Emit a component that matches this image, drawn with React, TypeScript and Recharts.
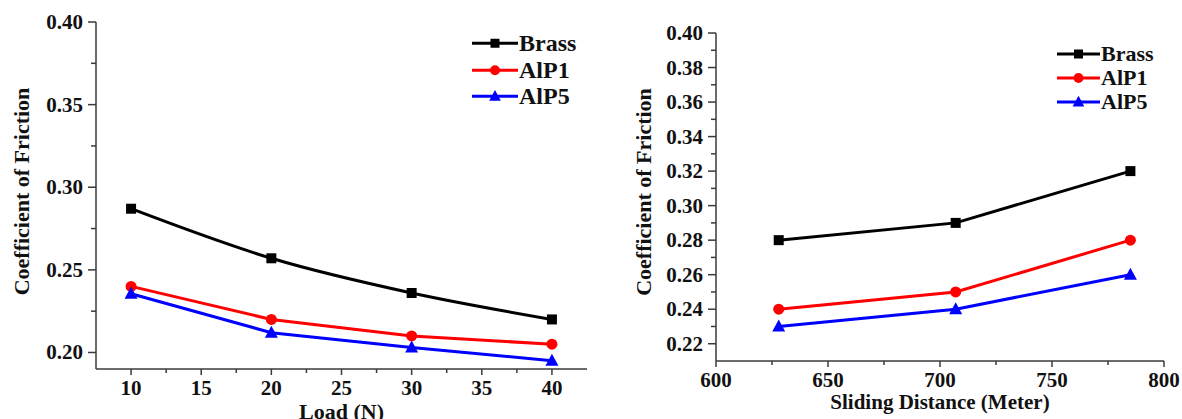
import React from 'react';
import { LineChart, Line, XAxis, YAxis, Legend } from 'recharts';

// left panel: coefficient of friction vs load
const loads = [10, 20, 30, 40];
const loadBrass = [0.287, 0.257, 0.236, 0.22];
const loadAlP1 = [0.24, 0.22, 0.21, 0.205];
const loadAlP5 = [0.2355, 0.212, 0.203, 0.195];

// right panel: coefficient of friction vs sliding distance
const distances = [628, 707, 785];
const distBrass = [0.28, 0.29, 0.32];
const distAlP1 = [0.24, 0.25, 0.28];
const distAlP5 = [0.23, 0.24, 0.26];

// tick labels
const loadMajor = [10, 15, 20, 25, 30, 35, 40];
const loadMinor = [12.5, 17.5, 22.5, 27.5, 32.5, 37.5];
const loadCofMajor = [0.2, 0.25, 0.3, 0.35, 0.4];
const loadCofMinor = [0.225, 0.275, 0.325, 0.375];
const distMajor = [600, 650, 700, 750, 800];
const distMinor = [625, 675, 725, 775];
const distCofMajor = [0.22, 0.24, 0.26, 0.28, 0.3, 0.32, 0.34, 0.36, 0.38, 0.4];
const distCofMinor = [0.23, 0.25, 0.27, 0.29, 0.31, 0.33, 0.35, 0.37, 0.39];

const seriesNames = ['Brass', 'AlP1', 'AlP5'];
const seriesKeys = ['brass', 'alp1', 'alp5'];
const seriesColors = ['#000000', '#ff0000', '#0000ff'];
const seriesShapes = ['square', 'circle', 'triangle'];

const FONT = 'Liberation Serif';
const AXIS = '#3a3a3a';
const TICK_SIZE = 6;
const TICK_MARGIN = 2;

const loadData = loads.map((x, i) => ({ x, brass: loadBrass[i], alp1: loadAlP1[i], alp5: loadAlP5[i] }));
const distData = distances.map((x, i) => ({ x, brass: distBrass[i], alp1: distAlP1[i], alp5: distAlP5[i] }));

const isIn = (v: number, list: number[]) => list.some((m) => Math.abs(m - v) < 1e-9);
const merge = (a: number[], b: number[]) => [...a, ...b].sort((p, q) => p - q);

const txt = { fontFamily: FONT, fontWeight: 700 } as const;

const Marker = ({ shape, cx, cy, color, s = 1 }: any) => {
  if (cx == null || cy == null) return null;
  if (shape === 'square') return <rect x={cx - 5 * s} y={cy - 5 * s} width={10 * s} height={10 * s} fill={color} />;
  if (shape === 'circle') return <circle cx={cx} cy={cy} r={5.5 * s} fill={color} />;
  return <polygon points={`${cx},${cy - 7 * s} ${cx - 6.5 * s},${cy + 5 * s} ${cx + 6.5 * s},${cy + 5 * s}`} fill={color} />;
};

const XTick = ({ x, y, payload, major }: any) => {
  const ay = y - TICK_SIZE - TICK_MARGIN;
  const big = isIn(payload.value, major);
  return (
    <g>
      <line x1={x} x2={x} y1={ay} y2={ay + (big ? 6 : 4)} stroke={AXIS} strokeWidth={1.5} />
      {big && (
        <text x={x} y={ay + 26} textAnchor="middle" style={{ ...txt, fontSize: 21 }} fill="#111">
          {String(payload.value)}
        </text>
      )}
    </g>
  );
};

const YTick = ({ x, y, payload, major }: any) => {
  const ax = x + TICK_SIZE + TICK_MARGIN;
  const big = isIn(payload.value, major);
  return (
    <g>
      <line x1={ax} x2={ax - (big ? 8 : 5)} y1={y} y2={y} stroke={AXIS} strokeWidth={1.5} />
      {big && (
        <text x={ax - 13} y={y + 7} textAnchor="end" style={{ ...txt, fontSize: 21 }} fill="#111">
          {payload.value.toFixed(2)}
        </text>
      )}
    </g>
  );
};

const LegendBox = ({ rowH, lineW, fontSize }: any) => (
  <div>
    {seriesNames.map((name, i) => (
      <div key={name} style={{ display: 'flex', alignItems: 'center', height: rowH }}>
        <svg width={lineW} height={rowH} style={{ display: 'block' }}>
          <line x1={0} x2={lineW} y1={rowH / 2} y2={rowH / 2} stroke={seriesColors[i]} strokeWidth={3} />
          <Marker shape={seriesShapes[i]} cx={lineW / 2} cy={rowH / 2} color={seriesColors[i]} s={0.9} />
        </svg>
        <span style={{ ...txt, fontSize, color: '#111', marginLeft: 1, lineHeight: 1 }}>{name}</span>
      </div>
    ))}
  </div>
);

const YTitle = ({ viewBox, cx, shift }: any) => {
  const cy = viewBox.y + viewBox.height / 2 + shift;
  return (
    <text x={cx} y={cy} transform={`rotate(-90, ${cx}, ${cy})`} textAnchor="middle" dominantBaseline="central"
      style={{ ...txt, fontSize: 22 }} fill="#111">
      Coefficient of Friction
    </text>
  );
};

const XTitle = ({ viewBox, text, dy, size }: any) => (
  <text x={viewBox.x + viewBox.width / 2} y={viewBox.y + dy} textAnchor="middle" style={{ ...txt, fontSize: size }} fill="#111">
    {text}
  </text>
);

const renderLines = (smoothFirst: boolean) =>
  seriesKeys.map((k, i) => (
    <Line
      key={k}
      dataKey={k}
      name={seriesNames[i]}
      type={smoothFirst && i === 0 ? 'monotone' : 'linear'}
      stroke={seriesColors[i]}
      strokeWidth={3}
      dot={(p: any) => <Marker key={`${k}-${p.index}`} shape={seriesShapes[i]} cx={p.cx} cy={p.cy} color={seriesColors[i]} />}
      activeDot={false}
      isAnimationActive={false}
    />
  ));

const App = () => {
  return (
    <div style={{ position: 'absolute', left: 0, top: 0, width: 1182, height: 419, background: '#fff', fontFamily: FONT }}>
      <div style={{ position: 'absolute', left: 0, top: 0 }}>
        <LineChart width={600} height={419} data={loadData} margin={{ top: 22, right: 13, left: 0, bottom: 0 }}>
          <XAxis
            dataKey="x"
            type="number"
            domain={[7.5, 42.5]}
            allowDataOverflow
            ticks={merge(loadMajor, loadMinor)}
            interval={0}
            height={50}
            tickSize={TICK_SIZE}
            tickMargin={TICK_MARGIN}
            tickLine={false}
            axisLine={{ stroke: AXIS, strokeWidth: 1.5 }}
            tick={(p: any) => <XTick {...p} major={loadMajor} />}
            label={(p: any) => <XTitle {...p} text="Load (N)" dy={50} size={22} />}
          />
          <XAxis xAxisId="top" orientation="top" type="number" domain={[7.5, 42.5]} height={0} tick={false} tickLine={false} axisLine={{ stroke: AXIS, strokeWidth: 1.5 }} />
          <YAxis
            type="number"
            domain={[0.19, 0.4]}
            allowDataOverflow
            ticks={merge(loadCofMajor, loadCofMinor)}
            interval={0}
            width={96}
            tickSize={TICK_SIZE}
            tickMargin={TICK_MARGIN}
            tickLine={false}
            axisLine={{ stroke: AXIS, strokeWidth: 1.5 }}
            tick={(p: any) => <YTick {...p} major={loadCofMajor} />}
            label={(p: any) => <YTitle {...p} cx={21} shift={-4} />}
          />
          <YAxis yAxisId="right" orientation="right" type="number" domain={[0.19, 0.4]} width={0} tick={false} tickLine={false} axisLine={{ stroke: AXIS, strokeWidth: 1.5 }} />
          <Legend
            layout="vertical"
            align="center"
            verticalAlign="middle"
            wrapperStyle={{ left: 472, top: 30, width: 125 }}
            content={() => <LegendBox rowH={26.5} lineW={46} fontSize={24} />}
          />
          {renderLines(true)}
        </LineChart>
      </div>
      <div style={{ position: 'absolute', left: 600, top: 0 }}>
        <LineChart width={582} height={419} data={distData} margin={{ top: 33, right: 18, left: 0, bottom: 0 }}>
          <XAxis
            dataKey="x"
            type="number"
            domain={[600, 800]}
            allowDataOverflow
            ticks={merge(distMajor, distMinor)}
            interval={0}
            height={58}
            tickSize={TICK_SIZE}
            tickMargin={TICK_MARGIN}
            tickLine={false}
            axisLine={{ stroke: AXIS, strokeWidth: 1.5 }}
            tick={(p: any) => <XTick {...p} major={distMajor} />}
            label={(p: any) => <XTitle {...p} text="Sliding Distance (Meter)" dy={48} size={21} />}
          />
          <XAxis xAxisId="top" orientation="top" type="number" domain={[600, 800]} height={0} tick={false} tickLine={false} axisLine={{ stroke: AXIS, strokeWidth: 1.5 }} />
          <YAxis
            type="number"
            domain={[0.21, 0.4]}
            allowDataOverflow
            ticks={merge(distCofMajor, distCofMinor)}
            interval={0}
            width={116}
            tickSize={TICK_SIZE}
            tickMargin={TICK_MARGIN}
            tickLine={false}
            axisLine={{ stroke: AXIS, strokeWidth: 1.5 }}
            tick={(p: any) => <YTick {...p} major={distCofMajor} />}
            label={(p: any) => <YTitle {...p} cx={43} shift={-5} />}
          />
          <YAxis yAxisId="right" orientation="right" type="number" domain={[0.21, 0.4]} width={0} tick={false} tickLine={false} axisLine={{ stroke: AXIS, strokeWidth: 1.5 }} />
          <Legend
            layout="vertical"
            align="center"
            verticalAlign="middle"
            wrapperStyle={{ left: 457, top: 42, width: 125 }}
            content={() => <LegendBox rowH={24} lineW={43} fontSize={22} />}
          />
          {renderLines(false)}
        </LineChart>
      </div>
    </div>
  );
};

export default App;
